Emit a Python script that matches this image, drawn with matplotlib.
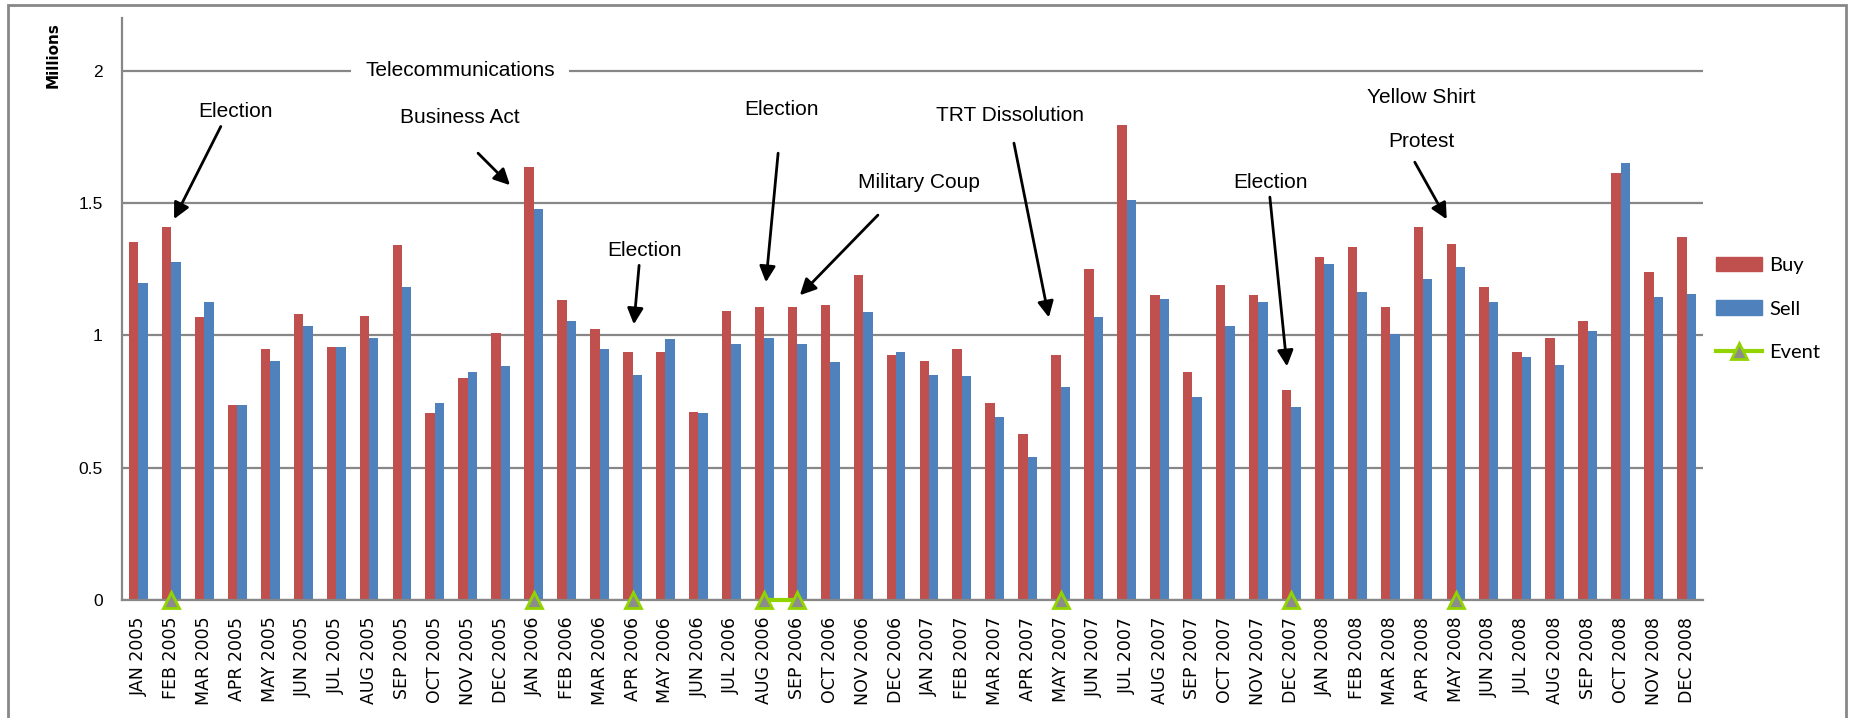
import matplotlib
matplotlib.use("Agg")
import matplotlib.pyplot as plt
from matplotlib.lines import Line2D
from matplotlib.patches import Patch, Rectangle
import numpy as np

# monthly trading volume, millions
months = ["JAN", "FEB", "MAR", "APR", "MAY", "JUN",
          "JUL", "AUG", "SEP", "OCT", "NOV", "DEC"]
years = [2005, 2006, 2007, 2008]
labels = [f"{m} {y}" for y in years for m in months]

buy = [1.352, 1.409, 1.068, 0.739, 0.947, 1.080, 0.955, 1.072, 1.341, 0.708, 0.841, 1.011,
       1.636, 1.133, 1.023, 0.939, 0.939, 0.712, 1.091, 1.106, 1.106, 1.117, 1.227, 0.928,
       0.902, 0.947, 0.746, 0.629, 0.928, 1.250, 1.795, 1.152, 0.860, 1.189, 1.152, 0.795,
       1.295, 1.333, 1.106, 1.409, 1.345, 1.182, 0.939, 0.992, 1.053, 1.614, 1.239, 1.371]
sell = [1.200, 1.277, 1.125, 0.739, 0.902, 1.034, 0.958, 0.992, 1.182, 0.746, 0.860, 0.883,
        1.477, 1.053, 0.947, 0.852, 0.985, 0.708, 0.966, 0.992, 0.966, 0.898, 1.087, 0.939,
        0.852, 0.845, 0.693, 0.542, 0.807, 1.068, 1.511, 1.136, 0.769, 1.034, 1.125, 0.731,
        1.269, 1.163, 1.004, 1.212, 1.258, 1.125, 0.920, 0.890, 1.015, 1.652, 1.144, 1.155]

# months with a political event (plotted at zero)
event_months = ["FEB 2005", "JAN 2006", "APR 2006", "AUG 2006", "SEP 2006",
                "MAY 2007", "DEC 2007", "MAY 2008"]
event = [0.0 if lab in event_months else np.nan for lab in labels]

# (text, text x, text y, arrow tail, arrow tip) in category / value units
notes = [
    ("Election", 2.96, 1.845, (2.50, 1.79), (1.08, 1.44)),
    ("Business Act", 9.76, 1.822, (10.31, 1.689), (11.28, 1.568)),
    ("Election", 15.35, 1.322, (15.20, 1.265), (15.04, 1.042)),
    ("Election", 19.51, 1.856, (19.42, 1.689), (19.05, 1.201)),
    ("Military Coup", 23.70, 1.580, (22.45, 1.455), (20.08, 1.152)),
    ("TRT Dissolution", 26.46, 1.833, (26.58, 1.727), (27.64, 1.068)),
    ("Election", 34.38, 1.580, (34.35, 1.523), (34.87, 0.883)),
    ("Protest", 38.94, 1.735, (38.75, 1.655), (39.72, 1.439)),
]

BUY_C = "#C0504D"
SELL_C = "#4F81BD"
EVENT_C = "#92D400"
GRID_C = "#878787"
NOTE_FONT = ["Liberation Sans", "DejaVu Sans"]

fig = plt.figure(figsize=(18.52, 7.18), dpi=100)
ax = fig.add_axes([122 / 1852, 118 / 718, (1703 - 122) / 1852, (600 - 18) / 718])

x = np.arange(len(labels))
w = 1 / 3.5
ax.bar(x - w / 2, buy, width=w, color=BUY_C, label="Buy", zorder=2)
ax.bar(x + w / 2, sell, width=w, color=SELL_C, label="Sell", zorder=2)
ax.plot(x, event, color=EVENT_C, lw=3, marker="^", ms=12, mfc="#8C8C8C",
        mec=EVENT_C, mew=2, clip_on=False, zorder=4)

ax.set_xlim(-0.5, len(labels) - 0.5)
ax.set_ylim(0, 2.2)
ax.set_yticks([0, 0.5, 1, 1.5, 2])
ax.set_yticklabels(["0", "0.5", "1", "1.5", "2"], fontsize=12.5, family=NOTE_FONT)
ax.set_xticks(x)
ax.set_xticklabels(labels, rotation=90, fontsize=12.5, family="DejaVu Sans")
ax.tick_params(axis="both", length=0, colors="black")
ax.tick_params(axis="y", pad=14)
ax.tick_params(axis="x", pad=12)

ax.grid(axis="y", color=GRID_C, lw=1.6, zorder=0)
ax.set_axisbelow(True)
for side in ["top", "right"]:
    ax.spines[side].set_visible(False)
for side in ["left", "bottom"]:
    ax.spines[side].set_color(GRID_C)
    ax.spines[side].set_linewidth(1.6)

ax.text(-0.0436, 0.993, "Millions", transform=ax.transAxes, fontsize=11,
        fontweight="bold", rotation=90, ha="center", va="top")

# heading that sits on the 2.0 gridline
ax.text(9.76, 2.0, "Telecommunications", fontsize=15, family=NOTE_FONT,
        ha="center", va="center", zorder=3,
        bbox=dict(facecolor="white", edgecolor="none", pad=10))
ax.text(38.94, 1.90, "Yellow Shirt", fontsize=15, family=NOTE_FONT,
        ha="center", va="center")

for text, tx, ty, tail, tip in notes:
    ax.text(tx, ty, text, fontsize=15, family=NOTE_FONT, ha="center", va="center")
    ax.annotate("", xy=tip, xytext=tail,
                arrowprops=dict(arrowstyle="-|>", color="black", lw=2,
                                mutation_scale=24, shrinkA=0, shrinkB=0))

handles = [Patch(color=BUY_C), Patch(color=SELL_C),
           Line2D([0], [0], color=EVENT_C, lw=3, marker="^", ms=12,
                  mfc="#8C8C8C", mec=EVENT_C, mew=2)]
fig.legend(handles, ["Buy", "Sell", "Event"], loc="center left",
           bbox_to_anchor=(1716 / 1852, 1 - 309 / 718), frameon=False,
           prop={"family": ["Lato", "DejaVu Sans"], "size": 14.5},
           handlelength=2.3, handletextpad=0.35, labelspacing=1.3,
           borderpad=0, borderaxespad=0)

# grey frame round the whole chart
fig.add_artist(Rectangle((8 / 1852, -0.2), (1846 - 8) / 1852, 1.2 - 5 / 718,
                         transform=fig.transFigure, fill=False,
                         edgecolor=GRID_C, lw=2))

fig.savefig("out.png", dpi=100, facecolor="white")
